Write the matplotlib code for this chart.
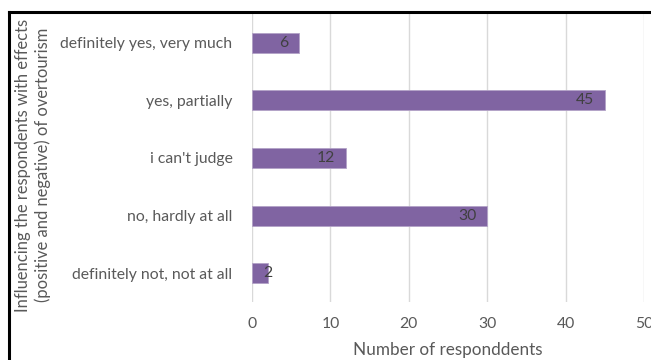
import matplotlib
matplotlib.use("Agg")
import matplotlib.pyplot as plt
from matplotlib.lines import Line2D

# Survey answers and counts (top to bottom as shown)
answers = ["definitely yes, very much", "yes, partially", "i can't judge",
           "no, hardly at all", "definitely not, not at all"]
counts = [6, 45, 12, 30, 2]
xticks = [0, 10, 20, 30, 40, 50]

plt.rcParams['font.family'] = ['Lato', 'DejaVu Sans']
grey = "#595959"

fig = plt.figure(figsize=(6.51, 3.6), dpi=100)
ax = fig.add_axes([252 / 651, 1 - 302 / 360, 392 / 651, 288 / 360])

ypos = list(range(len(answers)))
ax.barh(ypos, counts, height=0.35, color="#8064A2", edgecolor="#b3a2c7",
        linewidth=0.6, zorder=3)
ax.set_ylim(len(answers) - 0.5, -0.5)
ax.set_xlim(0, 50)
ax.set_yticks(ypos)
ax.set_yticklabels(answers, fontsize=11.3, color=grey)
ax.set_xticks(xticks)
ax.set_xticklabels([str(t) for t in xticks], fontsize=11.3, color=grey)
ax.tick_params(axis='y', length=0, pad=14)
ax.tick_params(axis='x', length=0, pad=11)
ax.grid(axis='x', color="#d9d9d9", linewidth=1, zorder=0)
for s in ax.spines.values():
    s.set_visible(False)

# value labels, inside end like Excel
for y, v in zip(ypos, counts):
    if v >= 4:
        ax.annotate(str(v), (v, y), xytext=(-11, 0), textcoords="offset pixels",
                    ha="right", va="center", fontsize=11.3, color="#404040", zorder=4)
    else:
        ax.annotate(str(v), (0, y), xytext=(11, 0), textcoords="offset pixels",
                    ha="left", va="center", fontsize=11.3, color="#404040", zorder=4)

ax.set_xlabel("Number of responddents", fontsize=12.3, color=grey, labelpad=8)

fig.text(33 / 651, 1 - 165 / 360,
         "Influencing the respondents with effects\n(positive and negative) of overtourism",
         rotation=90, ha="center", va="center", fontsize=11.9, color=grey,
         linespacing=1.3)

# black frame at top and left
fig.add_artist(Line2D([9 / 651, 1], [1 - 12 / 360, 1 - 12 / 360], color="black",
                      linewidth=2.2, transform=fig.transFigure))
fig.add_artist(Line2D([9 / 651, 9 / 651], [0, 1 - 12 / 360], color="black",
                      linewidth=2.2, transform=fig.transFigure))

fig.savefig("out.png", dpi=100)
